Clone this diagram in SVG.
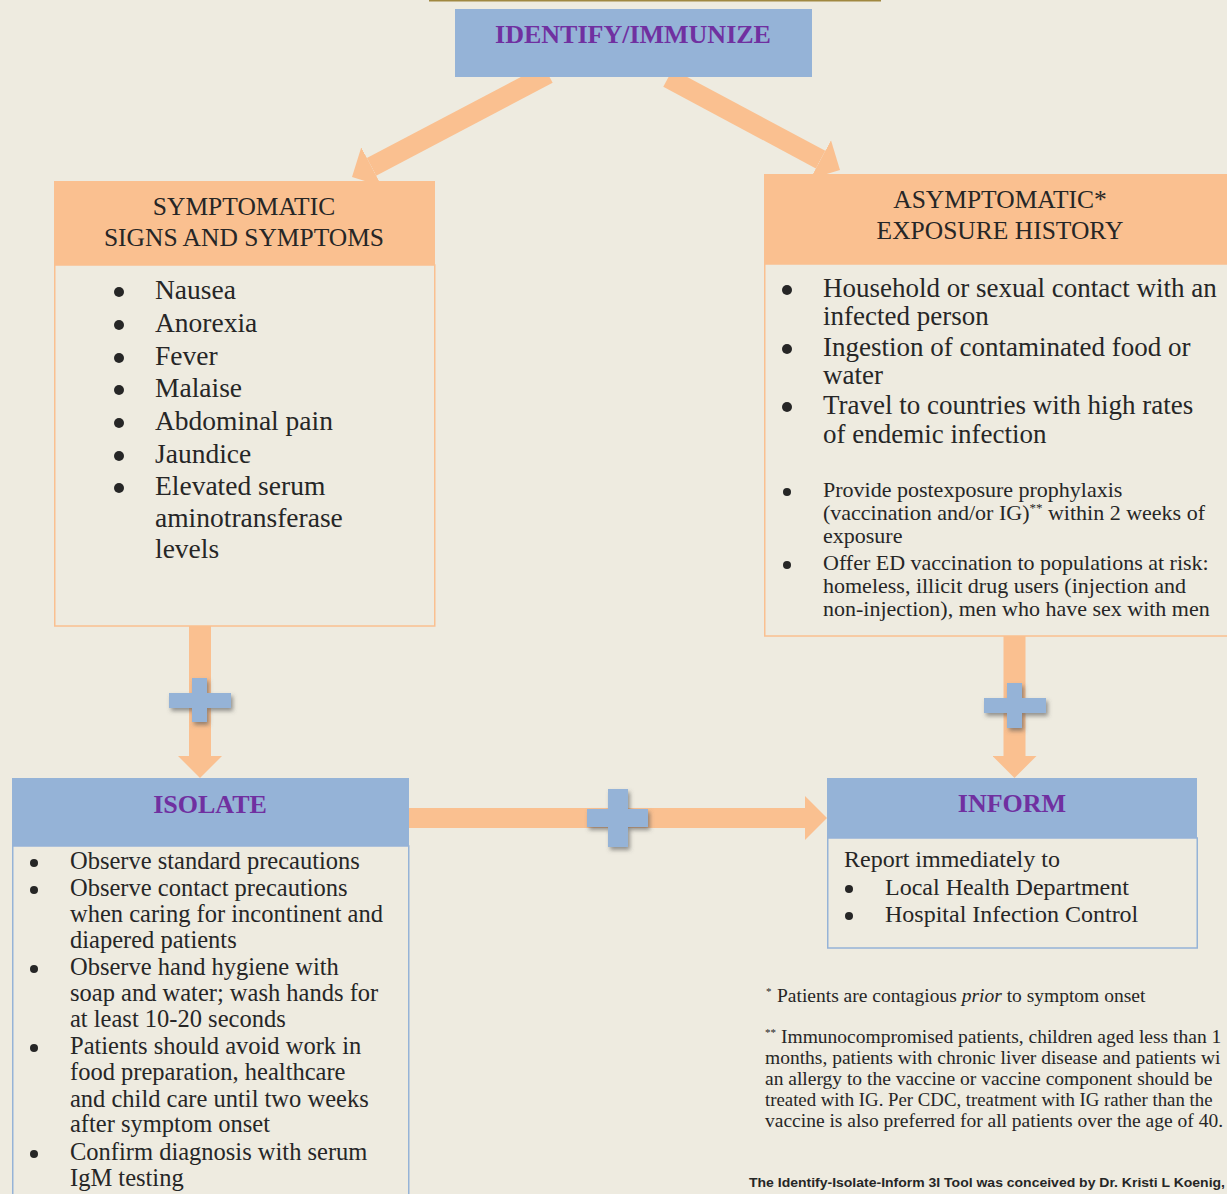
<svg xmlns="http://www.w3.org/2000/svg" width="1227" height="1194" viewBox="0 0 1227 1194">
<defs>
<style>
.bg{fill:#EEEBE0}
.blue{fill:#95B3D7}
.orange{fill:#FAC090}
.obody{fill:#EEEBE0;stroke:#FAC090;stroke-width:1.5}
.bbody{fill:#EEEBE0;stroke:#95B3D7;stroke-width:1.5}
.title{font-family:"Liberation Serif",serif;font-weight:bold;font-size:26px;fill:#7030A0;text-anchor:middle}
.head{font-family:"Liberation Serif",serif;font-size:25.5px;fill:#262626;text-anchor:middle}
.big{font-family:"Liberation Serif",serif;font-size:27px;fill:#262626}
.big2{font-family:"Liberation Serif",serif;font-size:27.5px;fill:#262626}
.small{font-family:"Liberation Serif",serif;font-size:22px;fill:#262626}
.iso{font-family:"Liberation Serif",serif;font-size:24.5px;fill:#262626}
.inf{font-family:"Liberation Serif",serif;font-size:24px;fill:#262626}
.note{font-family:"Liberation Serif",serif;font-size:19.5px;fill:#262626}
.foot{font-family:"Liberation Sans",sans-serif;font-weight:bold;font-size:13px;fill:#262626}
.dot{fill:#262626}
.conn{stroke:#FAC090;fill:none;marker-end:url(#head)}
.plus{fill:#95B3D7;filter:url(#shadow)}
</style>
<marker id="head" markerUnits="userSpaceOnUse" markerWidth="22" markerHeight="44" viewBox="0 0 22 44" refX="0" refY="22" orient="auto">
<path d="M0,0 L22,22 L0,44 Z" fill="#FAC090"/>
</marker>
<filter id="shadow" x="-30%" y="-30%" width="160%" height="160%">
<feGaussianBlur in="SourceAlpha" stdDeviation="2"/>
<feOffset dx="2" dy="3" result="b"/>
<feFlood flood-color="#555" flood-opacity="0.6"/>
<feComposite in2="b" operator="in"/>
<feMerge><feMergeNode/><feMergeNode in="SourceGraphic"/></feMerge>
</filter>
</defs>
<rect class="bg" x="0" y="0" width="1227" height="1194"/>
<rect x="429" y="0" width="452" height="1.5" fill="#A08840"/>

<g id="connectors">
<line class="conn" stroke-width="20" x1="548" y1="74" x2="371.5" y2="166.8"/>
<line class="conn" stroke-width="20" x1="668" y1="78" x2="820.6" y2="159.6"/>
<line class="conn" stroke-width="22" x1="200" y1="626" x2="200" y2="756"/>
<line class="conn" stroke-width="22" x1="1014.5" y1="636" x2="1014.5" y2="756"/>
<line class="conn" stroke-width="20" x1="409" y1="818" x2="805" y2="818"/>
<path class="plus" d="M169,693 H192 V678 H207 V693 H231 V708 H207 V722 H192 V708 H169 Z"/>
<path class="plus" d="M984,698 H1007 V683 H1022 V698 H1046 V713 H1022 V728 H1007 V713 H984 Z"/>
<path class="plus" d="M587,809 H608 V789 H628 V809 H648 V827 H628 V847 H608 V827 H587 Z"/>
</g>

<g id="identify">
<rect class="blue" x="455" y="9" width="357" height="68"/>
<text class="title" x="633" y="43">IDENTIFY/IMMUNIZE</text>
</g>

<g id="symptomatic">
<rect class="orange" x="54" y="181" width="381" height="84"/>
<rect class="obody" x="54.75" y="265" width="380" height="361"/>
<text class="head" x="244" y="215">SYMPTOMATIC</text>
<text class="head" x="244" y="246">SIGNS AND SYMPTOMS</text>
<g class="dot">
<circle cx="119" cy="292" r="5"/>
<circle cx="119" cy="325" r="5"/>
<circle cx="119" cy="358" r="5"/>
<circle cx="119" cy="390" r="5"/>
<circle cx="119" cy="423" r="5"/>
<circle cx="119" cy="456" r="5"/>
<circle cx="119" cy="488" r="5"/>
</g>
<g class="big2">
<text x="155" y="299">Nausea</text>
<text x="155" y="332">Anorexia</text>
<text x="155" y="365">Fever</text>
<text x="155" y="397">Malaise</text>
<text x="155" y="430">Abdominal pain</text>
<text x="155" y="463">Jaundice</text>
<text x="155" y="495">Elevated serum</text>
<text x="155" y="527">aminotransferase</text>
<text x="155" y="558">levels</text>
</g>
</g>

<g id="asymptomatic">
<rect class="orange" x="764" y="174" width="470" height="90"/>
<rect class="obody" x="764.75" y="264" width="470" height="372"/>
<text class="head" x="1000" y="208">ASYMPTOMATIC*</text>
<text class="head" x="1000" y="239">EXPOSURE HISTORY</text>
<g class="dot">
<circle cx="787" cy="290" r="5"/>
<circle cx="787" cy="349" r="5"/>
<circle cx="787" cy="407" r="5"/>
<circle cx="787" cy="492" r="4"/>
<circle cx="787" cy="565" r="4"/>
</g>
<g class="big">
<text x="823" y="297">Household or sexual contact with an</text>
<text x="823" y="325">infected person</text>
<text x="823" y="356">Ingestion of contaminated food or</text>
<text x="823" y="384">water</text>
<text x="823" y="414">Travel to countries with high rates</text>
<text x="823" y="443">of endemic infection</text>
</g>
<g class="small">
<text x="823" y="497">Provide postexposure prophylaxis</text>
<text x="823" y="520">(vaccination and/or IG)<tspan font-size="13" dy="-8">**</tspan><tspan dy="8"> within 2 weeks of</tspan></text>
<text x="823" y="543">exposure</text>
<text x="823" y="570">Offer ED vaccination to populations at risk:</text>
<text x="823" y="593">homeless, illicit drug users (injection and</text>
<text x="823" y="616">non-injection), men who have sex with men</text>
</g>
</g>

<g id="isolate">
<rect class="blue" x="12" y="778" width="397" height="68"/>
<rect class="bbody" x="12.75" y="846" width="396" height="360"/>
<text class="title" x="210" y="813">ISOLATE</text>
<g class="dot">
<circle cx="34" cy="863" r="4"/>
<circle cx="34" cy="890" r="4"/>
<circle cx="34" cy="969" r="4"/>
<circle cx="34" cy="1048" r="4"/>
<circle cx="34" cy="1154" r="4"/>
</g>
<g class="iso">
<text x="70" y="869">Observe standard precautions</text>
<text x="70" y="896">Observe contact precautions</text>
<text x="70" y="922">when caring for incontinent and</text>
<text x="70" y="948">diapered patients</text>
<text x="70" y="975">Observe hand hygiene with</text>
<text x="70" y="1001">soap and water; wash hands for</text>
<text x="70" y="1027">at least 10-20 seconds</text>
<text x="70" y="1054">Patients should avoid work in</text>
<text x="70" y="1080">food preparation, healthcare</text>
<text x="70" y="1107">and child care until two weeks</text>
<text x="70" y="1132">after symptom onset</text>
<text x="70" y="1160">Confirm diagnosis with serum</text>
<text x="70" y="1186">IgM testing</text>
</g>
</g>

<g id="inform">
<rect class="blue" x="827" y="778" width="370" height="60"/>
<rect class="bbody" x="827.75" y="838" width="369.5" height="110"/>
<text class="title" x="1012" y="812">INFORM</text>
<g class="dot">
<circle cx="849" cy="889" r="4"/>
<circle cx="849" cy="916" r="4"/>
</g>
<g class="inf">
<text x="844" y="867">Report immediately to</text>
<text x="885" y="895">Local Health Department</text>
<text x="885" y="922">Hospital Infection Control</text>
</g>
</g>

<g id="footnotes" class="note">
<text x="766" y="1002"><tspan font-size="11" dy="-7">*</tspan><tspan x="777" dy="7">Patients are contagious </tspan><tspan font-style="italic">prior</tspan> to symptom onset</text>
<text x="765" y="1043"><tspan font-size="11" dy="-7">**</tspan><tspan x="781" dy="7">Immunocompromised patients, children aged less than 1</tspan></text>
<text x="765" y="1064">months, patients with chronic liver disease and patients wi</text>
<text x="765" y="1085">an allergy to the vaccine or vaccine component should be</text>
<text x="765" y="1106" font-size="18.8">treated with IG. Per CDC, treatment with IG rather than the</text>
<text x="765" y="1127">vaccine is also preferred for all patients over the age of 40.</text>
</g>
<g id="credit">
<text class="foot" x="749" y="1187" textLength="476" lengthAdjust="spacingAndGlyphs">The Identify-Isolate-Inform 3I Tool was conceived by Dr. Kristi L Koenig,</text>
</g>
</svg>
